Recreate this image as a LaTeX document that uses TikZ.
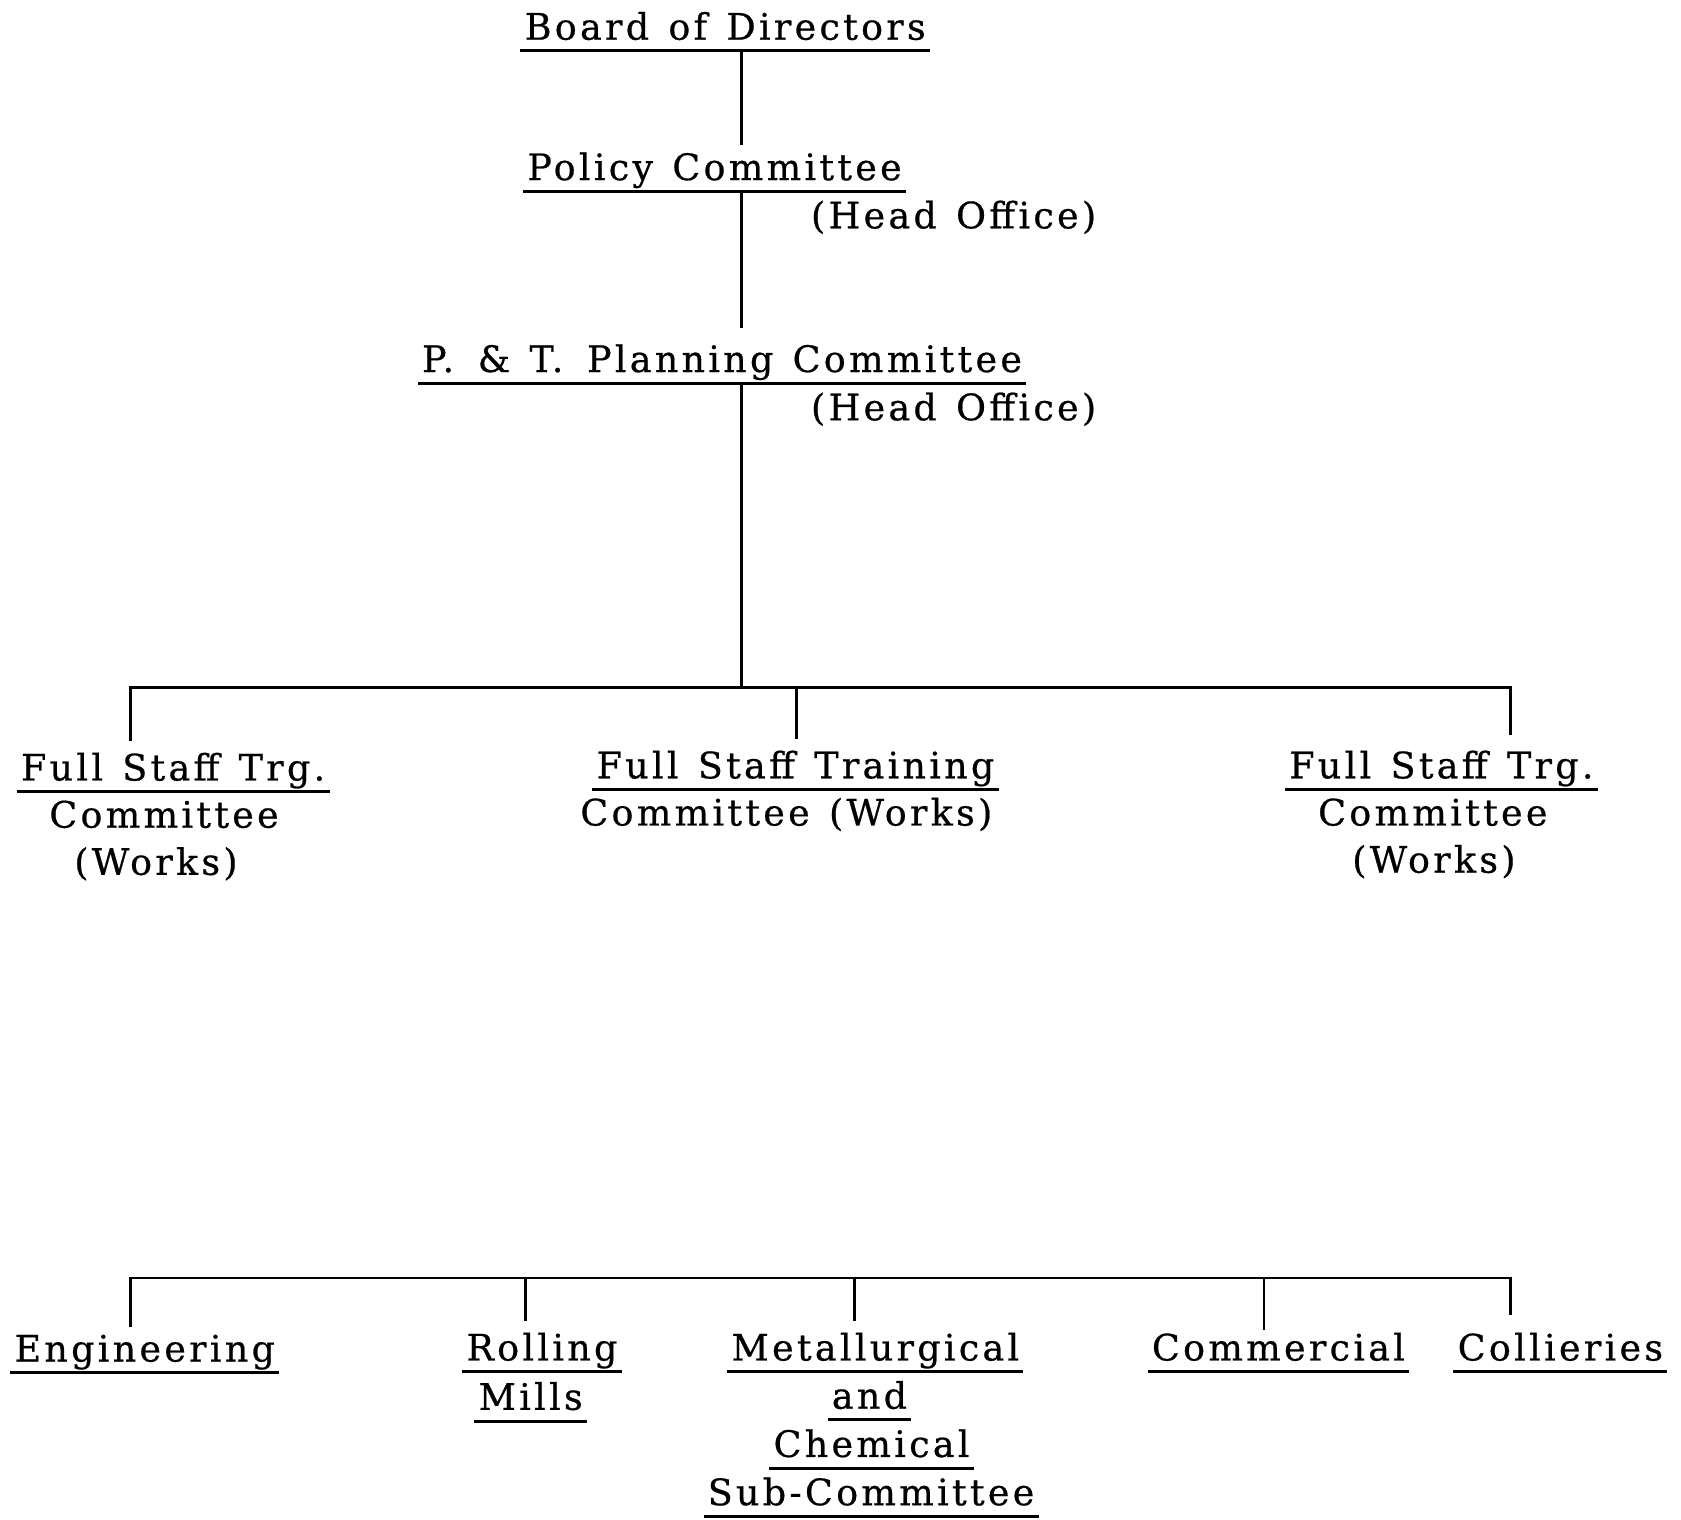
\documentclass[tikz,border=0pt]{standalone}
\usepackage{fontspec}
\setmainfont{DejaVu Serif}[LetterSpace=9,WordSpace=1.3,FakeBold=0.6]
\usetikzlibrary{calc}
\begin{document}
\begin{tikzpicture}[x=0.5pt,y=-0.5pt,line width=1pt,
  lbl/.style={inner sep=0pt,anchor=base,font=\fontsize{17}{20}\selectfont},
  link/.style={line width=1.3pt},
  uline/.style={line width=1.4pt}]
\useasboundingbox (0,0) rectangle (1568,1417);
\newcommand\ulin[1]{\draw[uline] ([xshift=-1.5pt,yshift=-5.25pt]#1.base west) -- ([xshift=1.5pt,yshift=-5.25pt]#1.base east);
  \coordinate (#1-ul) at ([yshift=-5.25pt]#1.base);}
% top chain
\node[lbl] (bod) at (676.5,37) {Board of Directors};
\node[lbl] (pol) at (666.5,168) {Policy Committee};
\node[lbl] (ho1) at (889.5,213) {(Head Office)};
\node[lbl] (pt)  at (673.5,347) {P.\hspace{0.65em}\& T.\hspace{0.65em}Planning Committee};
\node[lbl] (ho2) at (889.5,392) {(Head Office)};
\ulin{bod}\ulin{pol}\ulin{pt}
% works committees
\node[lbl] (fsl)  at (161.5,728) {Full Staff Trg.};
\node[lbl] (fsl2) at (153,772) {Committee};
\node[lbl] (fsl3) at (145.5,816) {(Works)};
\node[lbl] (fsm)  at (742,726) {Full Staff Training};
\node[lbl] (fsm2) at (733.5,770) {Committee (Works)};
\node[lbl] (fsr)  at (1344.5,726) {Full Staff Trg.};
\node[lbl] (fsr2) at (1336.5,770) {Committee};
\node[lbl] (fsr3) at (1337.5,814) {(Works)};
\ulin{fsl}\ulin{fsm}\ulin{fsr}
% sub-committees
\node[lbl] (eng) at (135,1270) {Engineering};
\node[lbl] (rol) at (505.5,1269) {Rolling};
\node[lbl] (mil) at (495,1315) {Mills};
\node[lbl] (met) at (816.5,1269) {Metallurgical};
\node[lbl] (and) at (811,1314) {and};
\node[lbl] (che) at (813,1359) {Chemical};
\node[lbl] (sub) at (812.5,1404) {Sub-Committee};
\node[lbl] (com) at (1192.5,1269) {Commercial};
\node[lbl] (col) at (1455.5,1269) {Collieries};
\ulin{eng}\ulin{rol}\ulin{mil}\ulin{met}\ulin{and}\ulin{che}\ulin{sub}\ulin{com}\ulin{col}
% guide coordinates
\coordinate (tx) at (692,0);
\coordinate (bar1) at (0,641);
\coordinate (bar2) at (0,1192);
\coordinate (xa) at (122,0);
\coordinate (xb) at (743,0);
\coordinate (xc) at (1409,0);
\coordinate (xd) at (490,0);
\coordinate (xe) at (797,0);
\coordinate (xf) at (1179,0);
% connectors
\draw[link] (bod-ul -| tx) -- ($(pol.north -| tx)+(0,-6)$);
\draw[link] (pol-ul -| tx) -- ($(pt.north -| tx)+(0,-14)$);
\draw[link] (pt-ul -| tx) -- (tx |- bar1);
\draw[link] ($(fsl.north -| xa)+(0,-10)$) -- (xa |- bar1) -- (xc |- bar1) -- ($(fsr.north -| xc)+(0,-14)$);
\draw[link] (xb |- bar1) -- ($(fsm.north -| xb)+(0,-10)$);
\draw[link] ($(eng.north -| xa)+(0,-6)$) -- (xa |- bar2) -- (xc |- bar2) -- ($(col.north -| xc)+(0,-16)$);
\draw[link] (xd |- bar2) -- ($(rol.north -| xd)+(0,-10)$);
\draw[link] (xe |- bar2) -- ($(met.north -| xe)+(0,-10)$);
\draw[link] (xf |- bar2) -- ($(com.north -| xf)+(0,-2)$);
\end{tikzpicture}
\end{document}
